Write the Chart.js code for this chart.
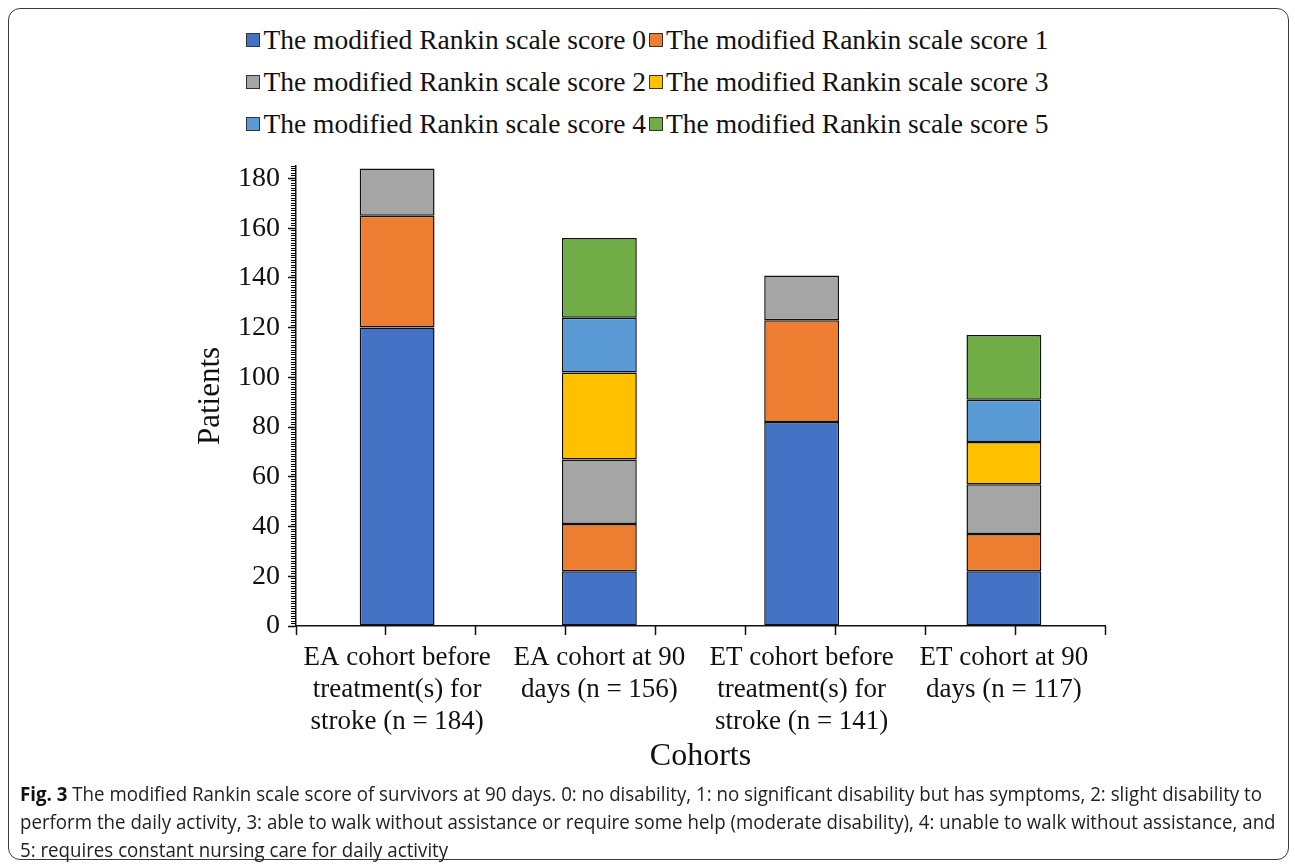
<!DOCTYPE html>
<html>
<head>
<meta charset="utf-8">
<script src="https://cdn.jsdelivr.net/npm/chart.js@4.4.1/dist/chart.umd.min.js"></script>
<style>
  body { margin: 0; background: #fff; width: 1295px; height: 866px; position: relative; overflow: hidden; }
  #frame { position: absolute; left: 8px; top: 8px; width: 1281px; height: 852px; border: 1.5px solid #3a3a3a; border-radius: 12px; box-sizing: border-box; }
  #legend { position: absolute; left: 0; top: 19px; width: 1295px; font-family: "Liberation Serif", serif; font-size: 27.5px; color: #111; }
  .row { display: flex; justify-content: center; height: 42px; align-items: center; }
  .item { display: flex; align-items: center; white-space: nowrap; }
  .item + .item { margin-left: 3px; }
  .sw { width: 12px; height: 12px; border: 1px solid #333; margin-right: 3px; }
  #wrap { position: absolute; left: 0; top: 150px; width: 1295px; height: 640px; }
  #caption { position: absolute; left: 20px; top: 780px; font-family: "Open Sans", sans-serif; font-size: 20px; line-height: 28px; color: #222; white-space: nowrap; }
  #caption div { transform-origin: 0 50%; width: max-content; }
  #caption b { color: #111; }
</style>
</head>
<body>
<div id="frame"></div>
<div id="legend"></div>
<div id="wrap"><canvas id="mrsChart"></canvas></div>
<div id="caption">
  <div><b>Fig. 3</b> The modified Rankin scale score of survivors at 90 days. 0: no disability, 1: no significant disability but has symptoms, 2: slight disability to</div>
  <div>perform the daily activity, 3: able to walk without assistance or require some help (moderate disability), 4: unable to walk without assistance, and</div>
  <div>5: requires constant nursing care for daily activity</div>
</div>
<script>
// cohorts on the x axis (multi-line labels)
const cohorts = [
  ["EA cohort before", "treatment(s) for", "stroke (n = 184)"],
  ["EA cohort at 90", "days (n = 156)"],
  ["ET cohort before", "treatment(s) for", "stroke (n = 141)"],
  ["ET cohort at 90", "days (n = 117)"]
];

// patients per mRS score, one value per cohort
const mrs0 = [120, 22, 82, 22];
const mrs1 = [45, 19, 41, 15];
const mrs2 = [19, 26, 18, 20];
const mrs3 = [0, 35, 0, 17];
const mrs4 = [0, 22, 0, 17];
const mrs5 = [0, 32, 0, 26];

const seriesNames = [
  "The modified Rankin scale score 0", "The modified Rankin scale score 1",
  "The modified Rankin scale score 2", "The modified Rankin scale score 3",
  "The modified Rankin scale score 4", "The modified Rankin scale score 5"
];
const seriesColors = ["#4472C4", "#ED7D31", "#A5A5A5", "#FFC000", "#5B9BD5", "#70AD47"];
const yTicks = [0, 20, 40, 60, 80, 100, 120, 140, 160, 180];

const serif = "'Liberation Serif', 'Times New Roman', serif";
const allSeries = [mrs0, mrs1, mrs2, mrs3, mrs4, mrs5];

const datasets = allSeries.map((vals, i) => ({
  label: seriesNames[i],
  data: vals,
  backgroundColor: seriesColors[i],
  borderColor: "#111",
  borderWidth: 1.5,
  borderSkipped: false,
  barPercentage: 0.37,
  categoryPercentage: 1.0
}));

// legend, two entries per row
const legendEl = document.getElementById("legend");
for (let r = 0; r < 3; r++) {
  const row = document.createElement("div");
  row.className = "row";
  for (let c = 0; c < 2; c++) {
    const i = r * 2 + c;
    row.innerHTML += `<div class="item"><span class="sw" style="background:${seriesColors[i]}"></span>${seriesNames[i]}</div>`;
  }
  legendEl.appendChild(row);
}

// squeeze the caption so the first line runs to the right edge like the figure
const capLines = document.querySelectorAll("#caption div");
const k = 1242 / capLines[0].getBoundingClientRect().width;
capLines.forEach(d => { d.style.transform = `scaleX(${k})`; });

const ctx = document.getElementById("mrsChart").getContext("2d");
new Chart(ctx, {
  type: "bar",
  data: { labels: cohorts, datasets },
  options: {
    responsive: true,
    maintainAspectRatio: false,
    animation: false,
    layout: { padding: { left: 192, right: 190, top: 16, bottom: 14 } },
    plugins: { legend: { display: false }, tooltip: { enabled: false } },
    scales: {
      x: {
        stacked: true,
        offset: true,
        grid: { display: true, drawOnChartArea: false, drawTicks: false },
        border: { color: "#111", width: 1.5 },
        ticks: { color: "#111", padding: 16, maxRotation: 0, autoSkip: false,
                 font: { family: serif, size: 27, lineHeight: 1.185 } },
        title: { display: true, text: "Cohorts", color: "#111", padding: 0,
                 font: { family: serif, size: 32 } },
        afterFit: s => { s.height = 150; }
      },
      xMinor: {
        axis: "x",
        type: "linear",
        position: "bottom",
        weight: -1,
        min: -0.5,
        max: 3.5,
        ticks: { display: false, stepSize: 0.5 },
        grid: { drawOnChartArea: false, tickLength: 9, color: "#111", tickWidth: 1.5 },
        border: { display: false },
        afterFit: s => { s.height = 0; }
      },
      y: {
        stacked: true,
        min: 0,
        max: 185,
        grid: { drawOnChartArea: false, tickLength: 8, tickWidth: 1.5, tickColor: "#111" },
        border: { color: "#111", width: 1.5 },
        ticks: {
          stepSize: 20, includeBounds: false, padding: 8, color: "#111",
          font: { family: serif, size: 28 },
          callback: v => yTicks.includes(v) ? v : null
        },
        title: { display: true, text: "Patients", color: "#111", padding: 0,
                 font: { family: serif, size: 31 } },
        afterFit: s => { s.width = 104; s.paddingTop = 0; s.paddingBottom = 0; }
      },
      yMinor: {
        axis: "y",
        position: "left",
        weight: -1,
        min: 0,
        max: 185,
        ticks: { display: false, stepSize: 1 },
        grid: { drawOnChartArea: false, tickLength: 5, tickWidth: 1, tickColor: "#000" },
        border: { display: false },
        afterFit: s => { s.width = 0; s.paddingTop = 0; s.paddingBottom = 0; }
      }
    }
  }
});
</script>
</body>
</html>
